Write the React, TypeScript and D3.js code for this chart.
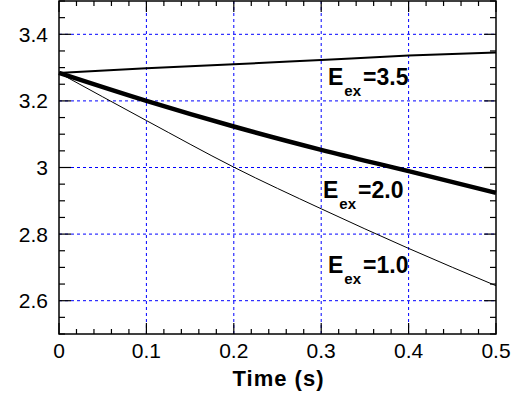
import * as d3 from "d3";
import { useRef, useEffect } from "react";

// time axis (s)
const times = [0, 0.1, 0.2, 0.3, 0.4, 0.5];

// series
const eex35 = [3.284, 3.298, 3.31, 3.323, 3.336, 3.345];
const eex20 = [3.284, 3.2, 3.123, 3.053, 2.989, 2.924];
const eex10 = [3.284, 3.141, 3.001, 2.876, 2.757, 2.645];

const seriesNames = ["3.5", "2.0", "1.0"];

const xTicks = [0, 0.1, 0.2, 0.3, 0.4, 0.5];
const yTicks = [2.6, 2.8, 3.0, 3.2, 3.4];
const xTickLabels = ["0", "0.1", "0.2", "0.3", "0.4", "0.5"];
const yTickLabels = ["2.6", "2.8", "3", "3.2", "3.4"];

const FONT = "Arial, 'Liberation Sans', sans-serif";

const App = () => {
    const chartRef = useRef(null);

    const width = 526;
    const height = 400;
    const margin = { top: 1, bottom: 66, left: 59, right: 30 };
    const boundsWidth = width - margin.left - margin.right;
    const boundsHeight = height - margin.top - margin.bottom;

    useEffect(() => {
        const svg = d3.select(chartRef.current);
        svg.selectAll("*").remove();

        const x = d3.scaleLinear().domain([0, 0.5]).range([0, boundsWidth]);
        const y = d3.scaleLinear().domain([2.5, 3.5]).range([boundsHeight, 0]);

        const g = svg.append("g")
            .attr("transform", `translate(${margin.left}, ${margin.top})`);

        // grid
        g.selectAll("line.vgrid")
            .data(xTicks.filter(d => d > 0 && d < 0.5))
            .enter()
            .append("line")
            .attr("x1", d => x(d))
            .attr("x2", d => x(d))
            .attr("y1", 0)
            .attr("y2", boundsHeight)
            .attr("stroke", "#0000ff")
            .attr("stroke-width", 1)
            .attr("stroke-dasharray", "3,3");

        g.selectAll("line.hgrid")
            .data(yTicks)
            .enter()
            .append("line")
            .attr("x1", 0)
            .attr("x2", boundsWidth)
            .attr("y1", d => y(d))
            .attr("y2", d => y(d))
            .attr("stroke", "#0000ff")
            .attr("stroke-width", 1)
            .attr("stroke-dasharray", "3,3");

        // ticks, inside, on all four sides
        const xMinor = d3.range(0, 0.5001, 0.02).map(d => +d.toFixed(2));
        const yMinor = d3.range(2.5, 3.5001, 0.05).map(d => +d.toFixed(2));
        const isMajorX = d => Math.abs(d * 10 - Math.round(d * 10)) < 1e-6;
        const isMajorY = d => yTicks.some(t => Math.abs(t - d) < 1e-6);

        xMinor.forEach(d => {
            const len = isMajorX(d) ? 11 : 5;
            g.append("line").attr("x1", x(d)).attr("x2", x(d))
                .attr("y1", boundsHeight).attr("y2", boundsHeight - len)
                .attr("stroke", "#000").attr("stroke-width", 1.2);
            g.append("line").attr("x1", x(d)).attr("x2", x(d))
                .attr("y1", 0).attr("y2", len)
                .attr("stroke", "#000").attr("stroke-width", 1.2);
        });
        yMinor.forEach(d => {
            const len = isMajorY(d) ? 12 : 6;
            g.append("line").attr("x1", 0).attr("x2", len)
                .attr("y1", y(d)).attr("y2", y(d))
                .attr("stroke", "#000").attr("stroke-width", 1.2);
            g.append("line").attr("x1", boundsWidth).attr("x2", boundsWidth - len)
                .attr("y1", y(d)).attr("y2", y(d))
                .attr("stroke", "#000").attr("stroke-width", 1.2);
        });

        // frame
        g.append("rect")
            .attr("x", 0).attr("y", 0)
            .attr("width", boundsWidth).attr("height", boundsHeight)
            .attr("fill", "none")
            .attr("stroke", "#000")
            .attr("stroke-width", 1.5);

        // tick labels
        g.selectAll("text.xl")
            .data(xTicks)
            .enter()
            .append("text")
            .attr("x", d => x(d))
            .attr("y", boundsHeight + 24)
            .attr("text-anchor", "middle")
            .attr("font-family", FONT)
            .attr("font-size", 21)
            .text((d, i) => xTickLabels[i]);

        g.selectAll("text.yl")
            .data(yTicks)
            .enter()
            .append("text")
            .attr("x", -11)
            .attr("y", d => y(d) + 7.5)
            .attr("text-anchor", "end")
            .attr("font-family", FONT)
            .attr("font-size", 21)
            .text((d, i) => yTickLabels[i]);

        g.append("text")
            .attr("x", boundsWidth / 2 + 1)
            .attr("y", boundsHeight + 52)
            .attr("text-anchor", "middle")
            .attr("font-family", FONT)
            .attr("font-size", 22)
            .attr("font-weight", "bold")
            .attr("letter-spacing", 1)
            .text("Time (s)");

        // curves
        const line = d3.line()
            .x(d => x(d[0]))
            .y(d => y(d[1]))
            .curve(d3.curveMonotoneX);

        const series = [eex35, eex20, eex10];
        const widths = [2, 4.5, 1];
        series.forEach((vals, i) => {
            g.append("path")
                .datum(times.map((t, j) => [t, vals[j]]))
                .attr("d", line)
                .attr("fill", "none")
                .attr("stroke", "#000")
                .attr("stroke-width", widths[i]);
        });

        // labels
        const labelPos = [[328, 85], [323, 198], [328, 273]];
        seriesNames.forEach((name, i) => {
            const t = svg.append("text")
                .attr("x", labelPos[i][0])
                .attr("y", labelPos[i][1])
                .attr("font-family", FONT)
                .attr("font-weight", "bold")
                .attr("font-size", 23);
            t.append("tspan").text("E");
            t.append("tspan").attr("font-size", 15).attr("dy", 11).attr("dx", 1).text("ex");
            t.append("tspan").attr("dy", -11).attr("dx", 2).text("=" + name);
        });
    }, []);

    return (
        <svg ref={chartRef} width={width} height={height}
             style={{ position: "absolute", left: 0, top: 0, background: "#fff" }}></svg>
    );
};

export default App;
